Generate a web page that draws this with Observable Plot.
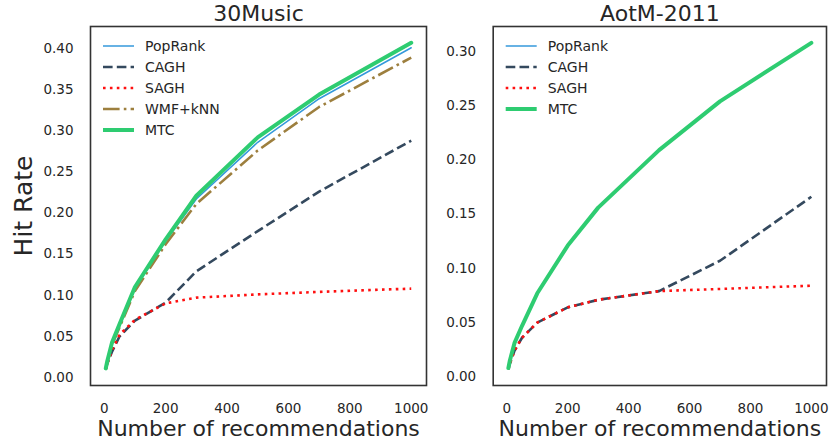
<!DOCTYPE html>
<html><head><meta charset="utf-8">
<script src="https://cdn.jsdelivr.net/npm/d3@7"></script>
<script src="https://cdn.jsdelivr.net/npm/@observablehq/plot@0.6"></script>
<style>
body{margin:0;background:#fff;}
#chart{position:relative;width:830px;height:441px;font-family:"DejaVu Sans";background:#fff;}
#chart svg{position:absolute;top:0;}
</style></head><body><div id="chart"></div>
<script>
// ---- data ----
const recs = [5, 10, 25, 50, 100, 200, 300, 500, 700, 1000];
const xTicks = [0, 200, 400, 600, 800, 1000];

// 30Music
const music30_PopRank = [0.010, 0.019, 0.040, 0.063, 0.108, 0.166, 0.217, 0.286, 0.339, 0.401];
const music30_CAGH    = [0.010, 0.017, 0.031, 0.050, 0.069, 0.091, 0.129, 0.178, 0.226, 0.288];
const music30_SAGH    = [0.010, 0.017, 0.033, 0.052, 0.070, 0.090, 0.097, 0.101, 0.104, 0.108];
const music30_WMF     = [0.010, 0.018, 0.039, 0.061, 0.105, 0.162, 0.211, 0.276, 0.329, 0.389];
const music30_MTC     = [0.011, 0.020, 0.042, 0.065, 0.110, 0.168, 0.221, 0.292, 0.344, 0.407];
const music30_yTicks  = [0, 0.05, 0.10, 0.15, 0.20, 0.25, 0.30, 0.35, 0.40];

// AotM-2011
const aotm_PopRank = [0.008, 0.015, 0.031, 0.047, 0.077, 0.121, 0.156, 0.209, 0.254, 0.308];
const aotm_CAGH    = [0.007, 0.012, 0.024, 0.036, 0.050, 0.064, 0.071, 0.079, 0.107, 0.166];
const aotm_SAGH    = [0.007, 0.012, 0.024, 0.036, 0.050, 0.064, 0.071, 0.079, 0.081, 0.084];
const aotm_MTC     = [0.008, 0.015, 0.031, 0.047, 0.077, 0.121, 0.156, 0.209, 0.254, 0.308];
const aotm_yTicks  = [0, 0.05, 0.10, 0.15, 0.20, 0.25, 0.30];

// ---- styles ----
const styles = {
  "PopRank": {color: "#3498db", width: 1.5, dash: null},
  "CAGH":    {color: "#34495e", width: 2.6, dash: "9.6,4.2"},
  "SAGH":    {color: "#ff1010", width: 2.6, dash: "2.6,4.3"},
  "WMF+kNN": {color: "#9d7f3e", width: 2.6, dash: "16.6,4.2,2.6,4.2"},
  "MTC":     {color: "#2ecc71", width: 4, dash: null}
};
const ink = "#262626";
const font = "DejaVu Sans";

function legendMark(names) {
  return (index, scales, values, dims) => {
    const g = d3.create("svg:g").attr("font-family", font).attr("font-size", 14).attr("fill", ink).attr("text-anchor", "start");
    names.forEach((m, i) => {
      const s = styles[m];
      const y = dims.marginTop + 20 + i * 21;
      g.append("line")
        .attr("x1", dims.marginLeft + 13).attr("x2", dims.marginLeft + 44)
        .attr("y1", y).attr("y2", y)
        .attr("stroke", s.color).attr("stroke-width", s.width)
        .attr("stroke-dasharray", s.dash)
        .attr("stroke-linecap", "butt");
      g.append("text").attr("x", dims.marginLeft + 55).attr("y", y).attr("dy", "0.35em")
        .attr("text-anchor", "start").text(m);
    });
    return g.node();
  };
}

function panel({title, series, yTicks, width, marginLeft, left, ylabel}) {
  const names = series.map(d => d[0]);
  const all = series.flatMap(d => d[1]);
  const [lo, hi] = d3.extent(all);
  const pad = (hi - lo) * 0.05;
  const xpad = (d3.max(recs) - d3.min(recs)) * 0.05;
  const marks = [
    Plot.axisX({ticks: xTicks, tickSize: 0, tickPadding: 17.5, fontSize: 13.5, tickFormat: d => String(d), label: null, fill: ink}),
    Plot.axisY({ticks: yTicks, tickSize: 0, tickPadding: 17, fontSize: 13.5, tickFormat: d3.format(".2f"), label: null, fill: ink})
  ];
  for (const [name, vals] of series) {
    const s = styles[name];
    const rows = recs.map((x, i) => ({x, y: vals[i]}));
    marks.push(Plot.line(rows, {
      x: "x", y: "y", stroke: s.color, strokeWidth: s.width,
      strokeDasharray: s.dash ?? undefined,
      strokeLinecap: s.dash ? "butt" : "round", strokeLinejoin: "round"
    }));
  }
  marks.push(Plot.frame({stroke: "#333", strokeWidth: 1.6}));
  marks.push(Plot.text([title], {frameAnchor: "top", lineAnchor: "bottom", textAnchor: "middle", dy: -5.5, fontSize: 22, fill: ink}));
  marks.push(Plot.text(["Number of recommendations"], {frameAnchor: "bottom", lineAnchor: "bottom", textAnchor: "middle", dy: 50.7, fontSize: 22, fill: ink}));
  if (ylabel) marks.push(Plot.text([ylabel], {frameAnchor: "left", rotate: -90, lineAnchor: "bottom", textAnchor: "middle", dx: -58.5, fontSize: 25, fill: ink}));
  marks.push(legendMark(names));
  const svg = Plot.plot({
    width, height: 441,
    marginLeft, marginRight: 4, marginTop: 26, marginBottom: 56,
    style: {fontFamily: font, color: ink, background: "transparent", overflow: "visible"},
    x: {domain: [d3.min(recs) - xpad, d3.max(recs) + xpad]},
    y: {domain: [lo - pad, hi + pad]},
    marks
  });
  svg.style.left = left + "px";
  document.getElementById("chart").appendChild(svg);
}

panel({
  title: "30Music",
  series: [["PopRank", music30_PopRank], ["CAGH", music30_CAGH], ["SAGH", music30_SAGH], ["WMF+kNN", music30_WMF], ["MTC", music30_MTC]],
  yTicks: music30_yTicks, width: 430, marginLeft: 90, left: 0, ylabel: "Hit Rate"
});
panel({
  title: "AotM-2011",
  series: [["PopRank", aotm_PopRank], ["CAGH", aotm_CAGH], ["SAGH", aotm_SAGH], ["MTC", aotm_MTC]],
  yTicks: aotm_yTicks, width: 400, marginLeft: 62.7, left: 430, ylabel: null
});
</script></body></html>
